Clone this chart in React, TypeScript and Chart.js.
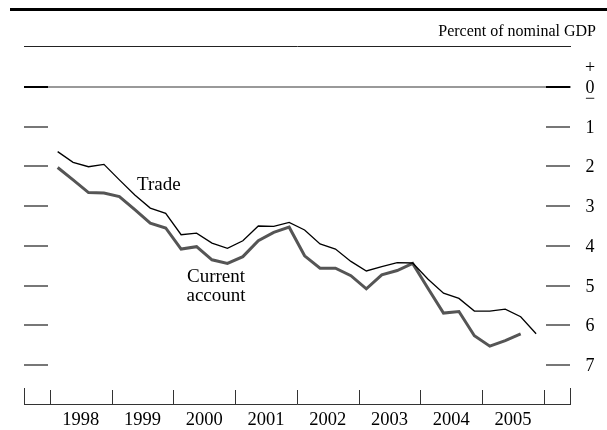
import React, { useEffect, useRef } from "react";
import { Chart, registerables } from "chart.js";

Chart.register(...registerables);

const years = [1998, 1999, 2000, 2001, 2002, 2003, 2004, 2005];
const quarters = years.flatMap((y) => [1, 2, 3, 4].map((q) => ({ year: y, q })));

const trade = [
  1.63, 1.9, 2.01, 1.95, 2.34, 2.72, 3.05, 3.18,
  3.72, 3.68, 3.93, 4.06, 3.87, 3.5, 3.51, 3.41,
  3.6, 3.95, 4.08, 4.39, 4.63, 4.52, 4.42, 4.43,
  4.84, 5.19, 5.32, 5.64, 5.64, 5.59, 5.78, 6.21,
];

const currentAccount = [
  2.03, 2.34, 2.66, 2.67, 2.76, 3.09, 3.43, 3.55,
  4.08, 4.02, 4.35, 4.44, 4.27, 3.87, 3.66, 3.53,
  4.25, 4.56, 4.56, 4.75, 5.08, 4.73, 4.62, 4.44,
  5.07, 5.69, 5.65, 6.26, 6.52, 6.38, 6.21,
];

const yTicks = [0, 1, 2, 3, 4, 5, 6, 7];
const yearLabels = years.map(String);

const quarterX = (i: number) => quarters[i].year + (quarters[i].q - 0.5) / 4;

const FONT = "'Liberation Serif', 'Times New Roman', serif";

const decorPlugin = {
  id: "decor",
  afterDraw(chart: any) {
    const ctx = chart.ctx as CanvasRenderingContext2D;
    const xs = chart.scales.x;
    const ys = chart.scales.y;
    const left = xs.left;
    const right = xs.right;
    ctx.save();

    // top rule
    ctx.fillStyle = "#000";
    ctx.fillRect(10, 8, 597, 3);

    // unit label
    ctx.font = `16px ${FONT}`;
    ctx.textAlign = "right";
    ctx.textBaseline = "alphabetic";
    ctx.fillText("Percent of nominal GDP", 596, 36);

    // thin rule
    ctx.strokeStyle = "#222";
    ctx.lineWidth = 1;
    ctx.beginPath();
    ctx.moveTo(left, 46.5);
    ctx.lineTo(right, 46.5);
    ctx.stroke();

    const tickLen = 24;
    // zero line
    const y0 = Math.round(ys.getPixelForValue(0));
    ctx.strokeStyle = "#777";
    ctx.lineWidth = 1.5;
    ctx.beginPath();
    ctx.moveTo(left, y0);
    ctx.lineTo(right, y0);
    ctx.stroke();

    // y ticks
    yTicks.forEach((v) => {
      const py = Math.round(ys.getPixelForValue(v));
      ctx.strokeStyle = v === 0 ? "#000" : "#777";
      ctx.lineWidth = 2;
      ctx.beginPath();
      ctx.moveTo(left, py);
      ctx.lineTo(left + tickLen, py);
      ctx.moveTo(right - 1 - tickLen, py);
      ctx.lineTo(right - 1, py);
      ctx.stroke();
      ctx.fillStyle = "#000";
      ctx.font = `18px ${FONT}`;
      ctx.textAlign = "center";
      ctx.textBaseline = "middle";
      ctx.fillText(String(v), 590, py + 1);
    });
    ctx.font = `18px ${FONT}`;
    ctx.fillText("+", 590, y0 - 19);
    ctx.fillText("\u2212", 590, y0 + 12);

    // bottom axis
    const by = 404.5;
    ctx.strokeStyle = "#333";
    ctx.lineWidth = 1;
    ctx.beginPath();
    ctx.moveTo(left, by);
    ctx.lineTo(right, by);
    ctx.moveTo(left + 0.5, by);
    ctx.lineTo(left + 0.5, 388);
    ctx.moveTo(right - 0.5, by);
    ctx.lineTo(right - 0.5, 388);
    [...years, years[years.length - 1] + 1].forEach((yr) => {
      const px = Math.round(xs.getPixelForValue(yr)) + 0.5;
      ctx.moveTo(px, by);
      ctx.lineTo(px, 390);
    });
    ctx.stroke();

    ctx.fillStyle = "#000";
    ctx.font = `18.5px ${FONT}`;
    ctx.textAlign = "center";
    ctx.textBaseline = "middle";
    years.forEach((yr, i) => {
      ctx.fillText(yearLabels[i], xs.getPixelForValue(yr + 0.5), 420);
    });

    // series labels
    ctx.font = `19px ${FONT}`;
    ctx.textAlign = "left";
    ctx.fillText("Trade", xs.getPixelForValue(1999.41), ys.getPixelForValue(2.46));
    ctx.textAlign = "center";
    ctx.fillText("Current", xs.getPixelForValue(2000.69), ys.getPixelForValue(4.77));
    ctx.fillText("account", xs.getPixelForValue(2000.69), ys.getPixelForValue(5.27));

    ctx.restore();
  },
};

export default function App() {
  const ref = useRef<HTMLCanvasElement | null>(null);
  useEffect(() => {
    if (!ref.current) return;
    const chart = new Chart(ref.current, {
      type: "line",
      data: {
        datasets: [
          {
            label: "Trade",
            data: trade.map((v, i) => ({ x: quarterX(i), y: v })),
            borderColor: "#000",
            borderWidth: 1.3,
            pointRadius: 0,
            tension: 0,
          },
          {
            label: "Current account",
            data: currentAccount.map((v, i) => ({ x: quarterX(i), y: v })),
            borderColor: "#555",
            borderWidth: 3,
            pointRadius: 0,
            tension: 0,
          },
        ],
      },
      options: {
        animation: false,
        responsive: false,
        devicePixelRatio: 1,
        layout: { padding: { left: 24, right: 36, top: 47, bottom: 25 } },
        plugins: { legend: { display: false }, tooltip: { enabled: false } },
        scales: {
          x: { type: "linear", min: 1997.58, max: 2006.44, display: false },
          y: { min: -1, max: 8, reverse: true, display: false },
        },
      },
      plugins: [decorPlugin],
    });
    return () => chart.destroy();
  }, []);
  return (
    <div style={{ position: "fixed", left: 0, top: 0, width: 607, height: 430, background: "#fff" }}>
      <canvas ref={ref} width={607} height={430} style={{ display: "block" }} />
    </div>
  );
}
